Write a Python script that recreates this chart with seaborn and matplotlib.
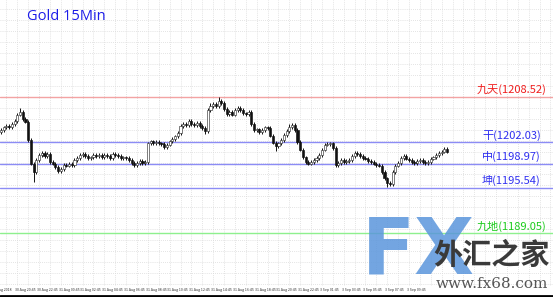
import numpy as np
import pandas as pd
import matplotlib
matplotlib.use("Agg")
import matplotlib.pyplot as plt
from matplotlib.lines import Line2D
import seaborn as sns

# ---------------- data ----------------
title = "Gold 15Min"
first_open = 1203.5
closes = [
    1203.8, 1204.2, 1204.4, 1204.2, 1204.7, 1205.1, 1206.0, 1206.4, 1205.4, 1205.0,
    1202.4, 1199.0, 1197.8, 1199.5, 1200.2, 1200.5, 1200.1, 1200.4, 1199.2, 1199.0,
    1198.5, 1197.9, 1198.2, 1198.8, 1198.7, 1199.0, 1198.8, 1199.5, 1199.8, 1200.2,
    1200.4, 1200.1, 1199.8, 1199.9, 1200.2, 1200.1, 1200.2, 1199.9, 1200.2, 1200.1,
    1199.8, 1200.4, 1200.2, 1200.1, 1199.8, 1199.9, 1199.8, 1199.5, 1199.1, 1198.8,
    1199.1, 1199.4, 1199.1, 1199.2, 1201.9, 1202.2, 1201.9, 1202.1, 1201.9, 1201.8,
    1201.4, 1201.7, 1202.2, 1202.5, 1202.9, 1203.4, 1204.4, 1204.7, 1204.5, 1205.1,
    1204.7, 1204.5, 1204.8, 1204.4, 1204.1, 1203.7, 1206.7, 1207.2, 1207.5, 1207.2,
    1208.0, 1207.7, 1206.8, 1206.1, 1206.4, 1206.0, 1206.7, 1207.0, 1206.7, 1206.2,
    1206.1, 1206.4, 1204.7, 1203.8, 1203.9, 1203.5, 1203.8, 1204.2, 1204.1, 1203.0,
    1202.0, 1201.5, 1201.9, 1202.4, 1203.1, 1203.7, 1204.2, 1204.5, 1203.8, 1202.1,
    1201.0, 1199.9, 1199.2, 1199.0, 1199.2, 1199.5, 1199.8, 1200.2, 1201.0, 1201.7,
    1201.8, 1201.9, 1201.2, 1198.8, 1199.1, 1199.5, 1199.2, 1199.4, 1199.5, 1200.1,
    1200.5, 1200.4, 1200.1, 1199.8, 1199.7, 1199.4, 1199.2, 1199.0, 1198.8, 1198.7,
    1197.8, 1196.9, 1196.2, 1196.1, 1197.8, 1198.7, 1199.1, 1199.8, 1200.1, 1199.7,
    1199.5, 1199.2, 1199.1, 1199.4, 1199.5, 1199.2, 1199.1, 1199.2, 1199.7, 1199.9,
    1200.2, 1200.5, 1200.7, 1201.1, 1200.7,
]
high_spikes = {7: 1206.9, 77: 1207.7, 80: 1208.5, 106: 1204.6}
low_spikes = {12: 1196.4, 101: 1200.8, 142: 1195.6, 75: 1203.3}

level_names = ["九天", "干", "中", "坤", "九地"]
level_values = [1208.52, 1202.03, 1198.97, 1195.54, 1189.05]
level_line_colors = ["#f3a3a3", "#8c8cf5", "#8c8cf5", "#8c8cf5", "#8ef08e"]
level_text_colors = ["#f01e1e", "#2f2ff0", "#2f2ff0", "#2f2ff0", "#1ccc1c"]

x_labels = ["30 Aug 2018", "30 Aug 20:45", "30 Aug 22:45", "31 Aug 00:45", "31 Aug 02:45",
            "31 Aug 04:45", "31 Aug 06:45", "31 Aug 08:45", "31 Aug 10:45", "31 Aug 12:45",
            "31 Aug 14:45", "31 Aug 16:45", "31 Aug 18:45", "31 Aug 20:45", "31 Aug 22:45",
            "3 Sep 01:45", "3 Sep 03:45", "3 Sep 05:45", "3 Sep 07:45", "3 Sep 09:45"]

# ---------------- frame ----------------
n = len(closes)
opens = [first_open] + closes[:-1]
df = pd.DataFrame({"i": np.arange(n), "open": opens, "close": closes})
df["top"] = df[["open", "close"]].max(axis=1)
df["bot"] = df[["open", "close"]].min(axis=1)
df["high"] = df["top"] + 0.25
df["low"] = df["bot"] - 0.25
for k, v in high_spikes.items():
    df.loc[k, "high"] = v
for k, v in low_spikes.items():
    df.loc[k, "low"] = v
df["up"] = df["close"] >= df["open"]

sns.set_theme(style="white")
plt.rcParams["font.family"] = ["Noto Sans CJK SC", "DejaVu Sans"]

W, H = 553, 297
fig = plt.figure(figsize=(W / 100, H / 100), dpi=100)
bottom_px = 286
ax = fig.add_axes([0, 1 - bottom_px / H, 1, bottom_px / H])

ymax, ymin = 1222.38, 1181.52
ax.set_ylim(ymin, ymax)
xmin = -0.37
xmax = xmin + W / 2.72
ax.set_xlim(xmin, xmax)

# grid (dotted, ~11px)
ppu = bottom_px / (ymax - ymin)
for ypx in range(9, bottom_px, 11):
    ax.axhline(ymax - ypx / ppu, color="#dadada", lw=0.6, ls=(0, (1, 1.5)), zorder=0)
for gx in np.arange(2, xmax, 4):
    ax.axvline(gx, color="#dadada", lw=0.6, ls=(0, (1, 1.5)), zorder=0)

# level lines
for v, c in zip(level_values, level_line_colors):
    ax.axhline(v, color=c, lw=1.0, zorder=1)

# candles
ax.vlines(df["i"], df["low"], df["high"], color="#111111", lw=0.7, zorder=2)
bw = 0.78
up = df[df["up"]]
dn = df[~df["up"]]
ax.bar(up["i"], (up["top"] - up["bot"]).clip(lower=0.06), bottom=up["bot"], width=bw,
       color="white", edgecolor="#333333", linewidth=0.45, zorder=3)
ax.bar(dn["i"], (dn["top"] - dn["bot"]).clip(lower=0.06), bottom=dn["bot"], width=bw,
       color="#111111", edgecolor="#111111", linewidth=0.45, zorder=3)

# watermark (behind level labels)
fig.text(362 / W, 1 - 252 / H, "FX", fontsize=56, fontweight="bold", color="#5b96dc",
         ha="left", va="center", family=["Liberation Sans Narrow", "DejaVu Sans"],
         alpha=0.85, zorder=4)
fig.text(433 / W, 1 - 255 / H, "外汇之家", fontsize=21, fontweight="bold", color="#3a3a3a",
         ha="left", va="center", zorder=4)
fig.text(436 / W, 1 - 284 / H, "www.fx68.com", fontsize=11, color="#555555",
         ha="left", va="center", family=["DejaVu Serif"], zorder=4)

# level labels
for name, v, c, xs in zip(level_names, level_values, level_text_colors,
                          [477, 482, 482, 482, 477]):
    ax.annotate(f"{name}({v:.2f})", xy=(xs / W, v), xycoords=("axes fraction", "data"),
                xytext=(0, 1.2), textcoords="offset points", ha="left", va="bottom",
                color=c, fontsize=8, zorder=6)

# title
fig.text(27 / W, 1 - 16 / H, title, color="#1c1ce8", fontsize=10.5, ha="left",
         va="center", family=["Open Sans", "DejaVu Sans"])

ax.set_xticks([])
ax.set_yticks([])
for s in ax.spines.values():
    s.set_visible(False)

# x labels
for k, lab in enumerate(x_labels):
    xpos = -3.3 if k == 0 else 5.2 + 8 * (k - 1)
    ax.text(xpos, ymin - 4 / ppu, lab, fontsize=2.6, color="#333333",
            ha="left", va="center", clip_on=False)

fig.add_artist(Line2D([0, 1], [1.5 / H, 1.5 / H], color="black", lw=2))

fig.savefig("out.png", dpi=100)
